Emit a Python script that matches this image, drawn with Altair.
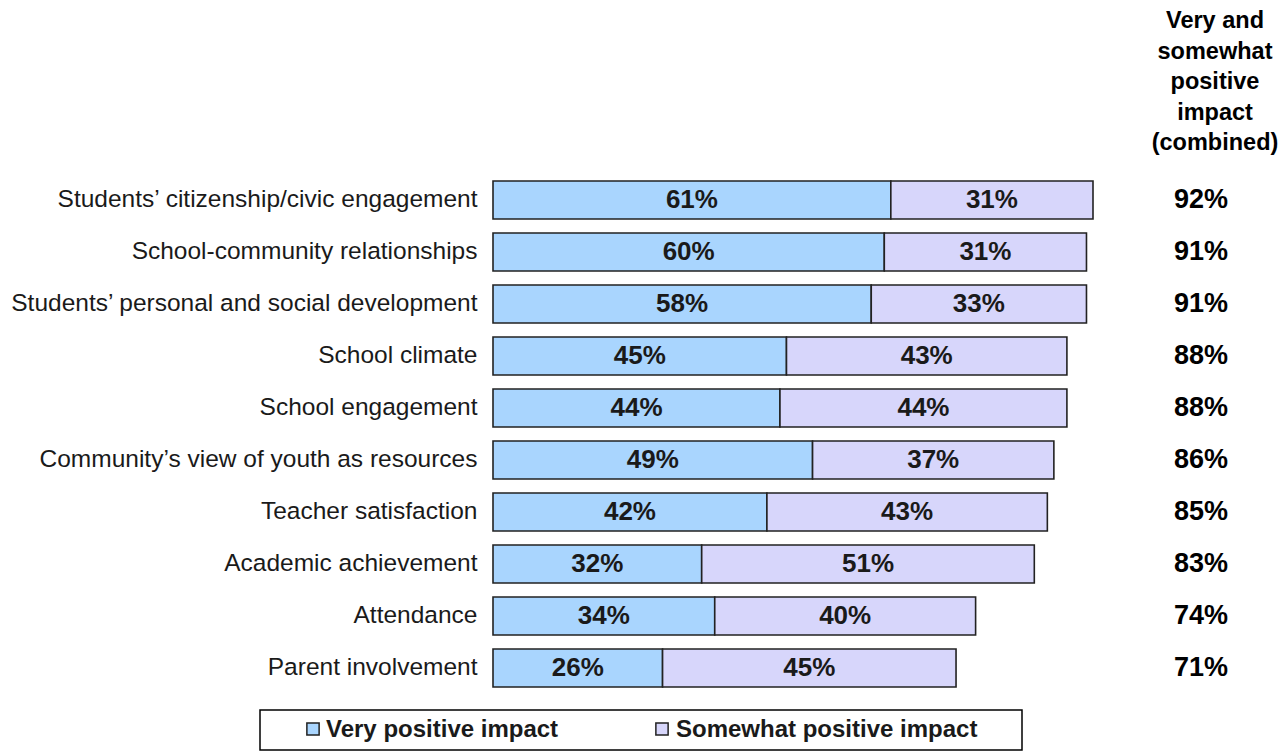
import altair as alt
import pandas as pd

categories = [
    "Students\u2019 citizenship/civic engagement",
    "School-community relationships",
    "Students\u2019 personal and social development",
    "School climate",
    "School engagement",
    "Community\u2019s view of youth as resources",
    "Teacher satisfaction",
    "Academic achievement",
    "Attendance",
    "Parent involvement",
]
very_positive = [61, 60, 58, 45, 44, 49, 42, 32, 34, 26]
somewhat_positive = [31, 31, 33, 43, 44, 37, 43, 51, 40, 45]
combined = [92, 91, 91, 88, 88, 86, 85, 83, 74, 71]
series = ["Very positive impact", "Somewhat positive impact"]
series_colors = ["#A9D5FE", "#D7D6FB"]
header_text = "Very and\nsomewhat\npositive\nimpact\n(combined)"

FONT = "Liberation Sans"

rows = []
for i, c in enumerate(categories):
    rows.append({"category": c, "series": series[0], "order": 0, "value": very_positive[i]})
    rows.append({"category": c, "series": series[1], "order": 1, "value": somewhat_positive[i]})
df = pd.DataFrame(rows)
tot = pd.DataFrame({"category": categories, "combined": combined})

yenc = alt.Y(
    "category:N",
    sort=categories,
    scale=alt.Scale(paddingInner=0.27, paddingOuter=0.135),
    axis=alt.Axis(
        title=None, ticks=False, domain=False, labelFontSize=24.5, labelFont=FONT,
        labelColor="#1a1a1a", labelPadding=16, labelLimit=0,
    ),
)
color = alt.Color("series:N", scale=alt.Scale(domain=series, range=series_colors), legend=None)
xscale = alt.Scale(domain=[0, 92], nice=False, zero=True)

base = alt.Chart(df).transform_stack(
    stack="value", groupby=["category"], sort=[alt.SortField("order")], as_=["x0", "x1"]
)

bars = base.mark_bar(stroke="#222222", strokeWidth=1.6, opacity=1).encode(
    x=alt.X("x0:Q", scale=xscale, axis=None),
    x2="x1:Q",
    y=yenc,
    color=color,
)

labels = base.transform_calculate(
    mid="(datum.x0 + datum.x1) / 2", lab="datum.value + '%'"
).mark_text(font=FONT, fontSize=26, fontWeight="bold", color="#1a1a1a", baseline="middle").encode(
    x=alt.X("mid:Q", scale=xscale, axis=None),
    y=alt.Y("category:N", sort=categories),
    text="lab:N",
)

totals = alt.Chart(tot).transform_calculate(lab="datum.combined + '%'").mark_text(
    font=FONT, fontSize=27, fontWeight="bold", color="#000000", baseline="middle"
).encode(
    x=alt.value(708),
    y=alt.Y("category:N", sort=categories),
    text="lab:N",
)

one = pd.DataFrame({"k": [0]})
header = alt.Chart(one).mark_text(
    font=FONT, fontSize=23.5, fontWeight="bold", color="#000000", baseline="alphabetic",
    align="center", lineBreak="\n", lineHeight=30.5,
).encode(x=alt.value(722), y=alt.value(-146), text=alt.value(header_text))

legend_box = alt.Chart(one).mark_rect(fill="white", stroke="#000000", strokeWidth=1.5).encode(
    x=alt.value(-233), x2=alt.value(529), y=alt.value(536), y2=alt.value(576)
)

legend_sym_x = [-180, 169]
legend_txt_x = [-167, 183]
legend_layers = []
for i, s in enumerate(series):
    d = pd.DataFrame({"series": [s]})
    legend_layers.append(
        alt.Chart(d).mark_point(shape="square", size=150, filled=True, stroke="#222222",
                                strokeWidth=1.5, opacity=1).encode(
            x=alt.value(legend_sym_x[i]), y=alt.value(555),
            fill=alt.Fill("series:N", scale=alt.Scale(domain=series, range=series_colors), legend=None),
        )
    )
    legend_layers.append(
        alt.Chart(d).mark_text(font=FONT, fontSize=24, fontWeight="bold", color="#1a1a1a",
                               align="left", baseline="alphabetic").encode(
            x=alt.value(legend_txt_x[i]), y=alt.value(563), text="series:N"
        )
    )

chart = alt.layer(bars, labels, totals, header, legend_box, *legend_layers).properties(
    width=600, height=520,
    autosize=alt.AutoSizeParams(type="none"),
    padding={"left": 493, "top": 174, "right": 192, "bottom": 57},
    background="white",
).configure_view(stroke=None)

chart.save("out.html", embed_options={"renderer": "svg", "actions": False})
